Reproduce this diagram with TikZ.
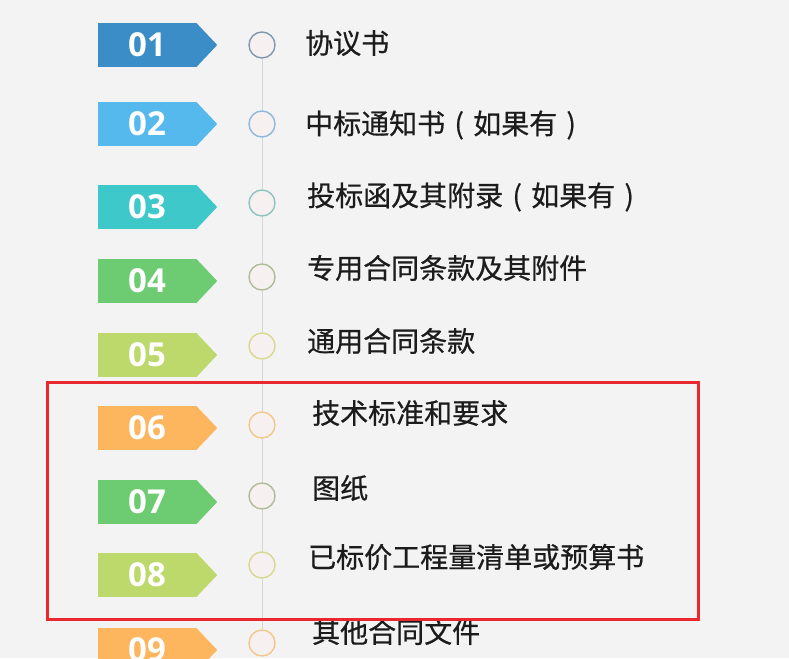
\documentclass[tikz,border=0pt]{standalone}
\usepackage{fontspec}
\newfontfamily\cjk[FakeBold=0.6]{Noto Sans CJK SC}
\newfontfamily\numfont{Open Sans}
\newcommand\openp{\makebox[1em]{(}}
\newcommand\closep{\makebox[1em]{)}}
\usetikzlibrary{calc}
\definecolor{bg}{HTML}{F3F3F3}
\definecolor{ink}{HTML}{1C1C1C}
\definecolor{dotfill}{HTML}{F7F0F0}
\definecolor{railgray}{HTML}{D6D6D6}
\definecolor{framered}{HTML}{E8282E}
\definecolor{tagA}{HTML}{3A8DC6}
\definecolor{tagB}{HTML}{56B9EE}
\definecolor{tagC}{HTML}{3FC8CA}
\definecolor{tagD}{HTML}{6DCB72}
\definecolor{tagE}{HTML}{BDD86B}
\definecolor{tagF}{HTML}{FDB55E}
\definecolor{ringA}{HTML}{8099B0}
\definecolor{ringB}{HTML}{8DB8DC}
\definecolor{ringC}{HTML}{8CC4C0}
\definecolor{ringD}{HTML}{B0BC98}
\definecolor{ringE}{HTML}{D8D890}
\definecolor{ringF}{HTML}{F3C78A}
\tikzset{
	tag/.style={fill=#1, minimum width=98pt, minimum height=44pt, inner sep=0pt, text=white, font=\numfont\bfseries\fontsize{33}{33}\selectfont},
	dot/.style={circle, draw=#1, line width=1.4pt, fill=dotfill, minimum size=26pt, inner sep=0pt},
	item/.style={anchor=west, inner sep=0pt, text=ink, font=\cjk\fontsize{28}{28}\selectfont},
	rail/.style={draw=railgray, line width=0.8pt},
	frame/.style={draw=framered, line width=3pt}
}
\begin{document}
\begin{tikzpicture}[x=1pt, y=-1pt]
	\fill[bg] (0,0) rectangle (789,658);
	\useasboundingbox (0,0) rectangle (789,658);
	\foreach \n/\ty/\cy/\lx/\ly/\col/\ring/\txt in {
		1/45/45/305/43/tagA/ringA/协议书,
		2/124/124/305/125/tagB/ringB/中标通知书\openp 如果有\closep,
		3/207/203/307/197/tagC/ringC/投标函及其附录\openp 如果有\closep,
		4/281/277/307/268/tagD/ringD/专用合同条款及其附件,
		5/355/346/307/341/tagE/ringE/通用合同条款,
		6/428/425/312/413/tagF/ringF/技术标准和要求,
		7/502/496/312/488/tagD/ringD/图纸,
		8/575/565/308/557/tagE/ringE/已标价工程量清单或预算书,
		9/650/643/312/632/tagF/ringF/其他合同文件}{
		\node[tag=\col] (t\n) at (147,\ty) {0\n};
		\fill[\col] (t\n.north east) -- ([xshift=21pt]t\n.east) -- (t\n.south east) -- cycle;
		\node[dot=\ring] (c\n) at (262,\cy) {};
		\node[item] (l\n) at (\lx,\ly) {\txt};
	}
	\foreach \i [evaluate=\i as \j using int(\i+1)] in {1,...,8}
		\draw[rail] (c\i) -- (c\j);
	\draw[frame] (47,382) rectangle (698,619);
\end{tikzpicture}
\end{document}
